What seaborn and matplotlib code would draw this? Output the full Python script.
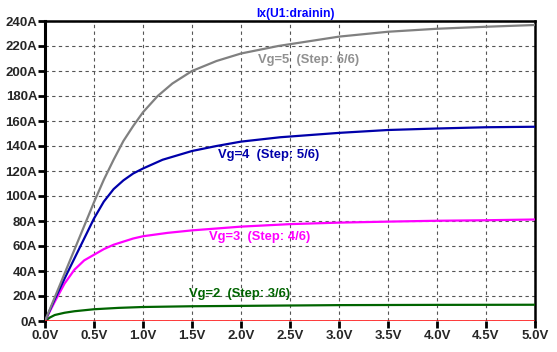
import numpy as np
import pandas as pd
import matplotlib
matplotlib.use("Agg")
import matplotlib.pyplot as plt
import seaborn as sns

# ---- data ----
v_gray = [0, 0.1, 0.2, 0.3, 0.4, 0.5, 0.6, 0.7, 0.8, 0.9, 1.0, 1.15, 1.3, 1.5, 1.75, 2.0, 2.38, 3.0, 3.5, 4.0, 4.5, 5.0]
i_vg5 = [0, 19, 38, 57, 76, 95, 113, 129, 144, 156, 167, 180, 190, 200, 208, 214, 220, 227.5, 231.4, 233.8, 235.4, 236.8]

v_blue = [0, 0.1, 0.2, 0.3, 0.4, 0.5, 0.6, 0.7, 0.8, 0.9, 1.0, 1.2, 1.5, 1.75, 2.0, 2.4, 3.0, 3.5, 4.0, 4.5, 5.0]
i_vg4 = [0, 17.5, 34, 50, 66, 82, 95.5, 105.5, 112.5, 118, 122, 129, 136, 140, 143.5, 147, 150.5, 152.8, 154, 155, 155.4]

v_mag = [0, 0.1, 0.2, 0.3, 0.4, 0.5, 0.6, 0.7, 0.8, 0.9, 1.0, 1.25, 1.5, 1.75, 2.0, 2.5, 3.0, 3.5, 4.0, 4.5, 5.0]
i_vg3 = [0, 15.5, 30, 41, 48.5, 53, 57.5, 61, 63.5, 66, 67.8, 70.5, 72.5, 74, 75.5, 77.5, 78.7, 79.5, 80.2, 80.6, 81.2]

v_green = [0, 0.05, 0.1, 0.2, 0.3, 0.5, 0.75, 1.0, 1.5, 2.0, 2.5, 3.0, 4.0, 5.0]
i_vg2 = [0, 2.8, 4.8, 6.6, 7.8, 9.4, 10.5, 11.2, 11.8, 12.1, 12.4, 12.7, 12.9, 13.0]

v_red = [0, 5.0]
i_vg1 = [0, 0]

x_ticks = [0.0, 0.5, 1.0, 1.5, 2.0, 2.5, 3.0, 3.5, 4.0, 4.5, 5.0]
x_labels = ["0.0V", "0.5V", "1.0V", "1.5V", "2.0V", "2.5V", "3.0V", "3.5V", "4.0V", "4.5V", "5.0V"]
y_ticks = [0, 20, 40, 60, 80, 100, 120, 140, 160, 180, 200, 220, 240]
y_labels = ["0A", "20A", "40A", "60A", "80A", "100A", "120A", "140A", "160A", "180A", "200A", "220A", "240A"]

title = "Ix(U1:drainin)"
labels = ["Vg=5  (Step: 6/6)", "Vg=4  (Step: 5/6)", "Vg=3  (Step: 4/6)", "Vg=2  (Step: 3/6)"]

# ---- style ----
sns.set_style("white")
plt.rcParams['font.family'] = ['Liberation Sans', 'DejaVu Sans']
plt.rcParams['font.weight'] = 'bold'

W, H = 557, 352
fig = plt.figure(figsize=(W / 100, H / 100), dpi=100)
L, R, T, B = 45, 535, 21, 321
ax = fig.add_axes([L / W, (H - B) / H, (R - L) / W, (B - T) / H])

series = [
    (v_green, i_vg2, "#006400"),
    (v_mag, i_vg3, "#ff00ff"),
    (v_blue, i_vg4, "#0000aa"),
    (v_gray, i_vg5, "#808080"),
]
for xs, ys, c in series:
    df = pd.DataFrame({"V": xs, "I": ys})
    sns.lineplot(data=df, x="V", y="I", ax=ax, color=c, linewidth=1.6, zorder=3)
sns.lineplot(data=pd.DataFrame({"V": v_red, "I": i_vg1}), x="V", y="I", ax=ax,
             color="#ff0000", linewidth=1.8, zorder=4)

ax.set_xlim(0, 5)
ax.set_ylim(0, 240)
ax.set_xticks(x_ticks)
ax.set_xticklabels(x_labels)
ax.set_yticks(y_ticks)
ax.set_yticklabels(y_labels)
ax.set_xlabel("")
ax.set_ylabel("")
ax.grid(True, color="#555555", linestyle=(0, (3, 3)), linewidth=0.8)
ax.set_axisbelow(True)

for s in ["left", "top", "right"]:
    ax.spines[s].set_visible(True)
    ax.spines[s].set_color("black")
ax.spines["left"].set_linewidth(2.2)
ax.spines["top"].set_linewidth(1.8)
ax.spines["right"].set_linewidth(1.8)
ax.spines["bottom"].set_visible(False)

ax.tick_params(axis="both", which="both", direction="out", length=5, width=2,
               color="black", labelsize=9.5, pad=0.5)
ax.tick_params(axis="x", bottom=True, pad=1.5)
ax.tick_params(axis="y", left=True)
for lab in ax.get_xticklabels() + ax.get_yticklabels():
    lab.set_fontweight("bold")

ax.set_title(title, color="#0000ff", fontsize=8.7, fontweight="bold", pad=3, x=0.512)

label_pos = [(2.17, 209, "#909090"), (1.77, 133, "#0000aa"), (1.67, 67, "#ff00ff"), (1.47, 22, "#006400")]
for txt, (x, y, c) in zip(labels, label_pos):
    ax.text(x, y, txt, color=c, fontsize=9.4, fontweight="bold", ha="left", va="center", zorder=5)

fig.savefig("out.png", dpi=100)
